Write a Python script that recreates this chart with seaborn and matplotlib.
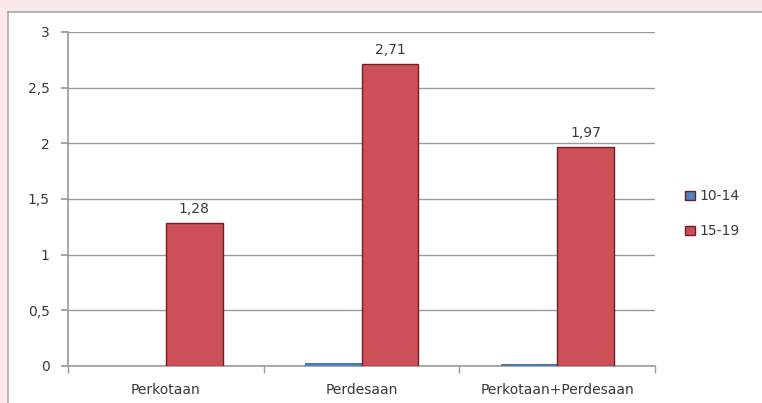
import matplotlib
matplotlib.use("Agg")
import matplotlib.pyplot as plt
from matplotlib.patches import Rectangle
import seaborn as sns
import pandas as pd

categories = ["Perkotaan", "Perdesaan", "Perkotaan+Perdesaan"]
age_groups = ["10-14", "15-19"]
values_10_14 = [0.0, 0.03, 0.02]
values_15_19 = [1.28, 2.71, 1.97]
y_ticks = [0, 0.5, 1, 1.5, 2, 2.5, 3]
y_tick_labels = ["0", "0,5", "1", "1,5", "2", "2,5", "3"]

df = pd.DataFrame({
    "kategori": categories * 2,
    "umur": [age_groups[0]] * 3 + [age_groups[1]] * 3,
    "nilai": values_10_14 + values_15_19,
})

sns.set_theme(style="white")
plt.rcParams["font.family"] = ["DejaVu Sans"]

fig = plt.figure(figsize=(7.62, 4.03), dpi=100)
fig.patch.set_facecolor("white")

# pale pink page margin around the chart frame
fig.add_artist(Rectangle((0, 0.970), 1, 0.03, transform=fig.transFigure,
                         facecolor="#fbe9ea", edgecolor="none", zorder=0))
fig.add_artist(Rectangle((0, 0), 0.0105, 1, transform=fig.transFigure,
                         facecolor="#fbe9ea", edgecolor="none", zorder=0))
fig.add_artist(plt.Line2D([0.0105, 0.0105], [0, 0.970], transform=fig.transFigure,
                          color="#b0a8a8", lw=1.2))
fig.add_artist(plt.Line2D([0.0105, 1], [0.970, 0.970], transform=fig.transFigure,
                          color="#b0a8a8", lw=1.2))

ax = fig.add_axes([0.089, 0.092, 0.771, 0.829])
palette = {"10-14": "#4f81bd", "15-19": "#cd4f58"}
sns.barplot(data=df, x="kategori", y="nilai", hue="umur", hue_order=age_groups,
            palette=palette, width=0.58, saturation=1, ax=ax,
            edgecolor="#6e1e24", linewidth=1.0, zorder=3)

for val, bar in zip(values_10_14, ax.containers[0]):
    bar.set_edgecolor("#3a5f8f")
    bar.set_linewidth(0.6 if val > 0 else 0)

for val, bar in zip(values_15_19, ax.containers[1]):
    ax.annotate(f"{val:.2f}".replace(".", ","),
                (bar.get_x() + bar.get_width() / 2, bar.get_height()),
                xytext=(0, 5), textcoords="offset points",
                ha="center", va="bottom", fontsize=10, color="#3a3a3a")

ax.set_ylim(0, 3)
ax.set_xlim(-0.5, 2.5)
ax.set_yticks(y_ticks)
ax.set_yticklabels(y_tick_labels)
ax.set_xlabel("")
ax.set_ylabel("")
ax.yaxis.grid(True, color="#9a9a9a", lw=1.0, zorder=0)
ax.set_axisbelow(True)

for side in ["top", "right"]:
    ax.spines[side].set_visible(False)
for side in ["left", "bottom"]:
    ax.spines[side].set_color("#9a9a9a")
    ax.spines[side].set_linewidth(1.2)

ax.tick_params(axis="y", which="both", left=True, length=5, color="#9a9a9a",
               labelsize=10, labelcolor="#3a3a3a", pad=8)
ax.set_xticks([0, 1, 2])
ax.set_xticklabels(categories)
ax.tick_params(axis="x", which="major", bottom=False, labelsize=10,
               labelcolor="#3a3a3a", pad=6)
ax.set_xticks([-0.5, 0.5, 1.5, 2.5], minor=True)
ax.tick_params(axis="x", which="minor", bottom=True, length=5, color="#9a9a9a")

leg = ax.legend(loc="center left", bbox_to_anchor=(1.03, 0.455), frameon=False,
                fontsize=10, handlelength=0.7, handleheight=0.7,
                handletextpad=0.3, labelspacing=1.5)
for t in leg.get_texts():
    t.set_color("#3a3a3a")

fig.savefig("out.png", dpi=100, facecolor=fig.get_facecolor())
